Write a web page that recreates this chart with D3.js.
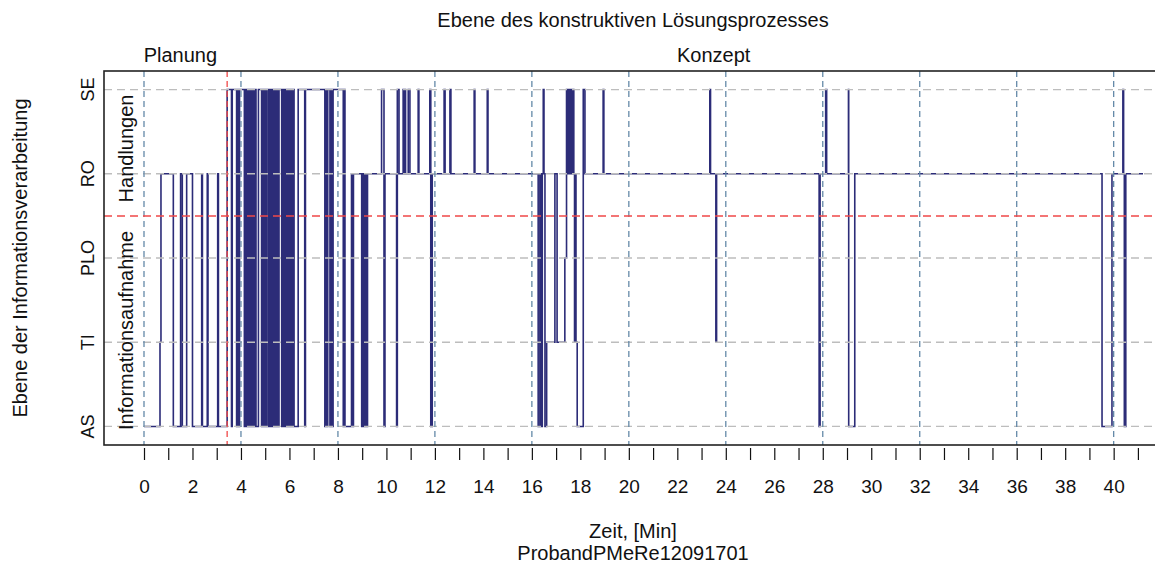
<!DOCTYPE html>
<html>
    <head>
        <meta charset="utf-8">
        <title>Ebene des konstruktiven Lösungsprozesses</title>
        <script src="https://d3js.org/d3.v7.min.js" charset="utf-8"></script>
        <style>
            body { margin: 0; background: #fff; }
            svg text { font-family: "Liberation Sans", Arial, sans-serif; fill: #111; }
        </style>
    </head>
    <body>
        <script>
            // levels of information processing, bottom to top
            var levelNames = ["AS", "TI", "PLO", "RO", "SE"];

            // step data: from changeTimes[i] (minutes) on, the level is changeLevels[i] (1 = AS ... 5 = SE)
            var changeTimes = [
                0.00, 0.66, 0.70, 1.21, 1.51, 1.58, 1.76, 2.00, 2.38, 2.41,
                2.61, 2.64, 3.04, 3.07, 3.43, 3.61, 3.64, 3.82, 3.86, 3.90,
                3.94, 4.14, 4.18, 4.22, 4.26, 4.30, 4.34, 4.38, 4.42, 4.46,
                4.50, 4.54, 4.58, 4.62, 4.72, 4.85, 4.89, 4.93, 4.97, 5.01,
                5.06, 5.13, 5.17, 5.21, 5.25, 5.29, 5.33, 5.37, 5.41, 5.47,
                5.50, 5.54, 5.57, 5.68, 5.72, 5.76, 5.80, 5.86, 5.90, 5.94,
                5.98, 6.02, 6.06, 6.10, 6.14, 6.19, 6.36, 6.63, 6.66, 7.46,
                7.50, 7.55, 7.58, 7.67, 7.71, 7.77, 7.80, 8.22, 8.26, 8.29,
                8.56, 8.60, 8.64, 8.98, 9.01, 9.04, 9.07, 9.13, 9.16, 9.19,
                9.22, 9.80, 9.90, 9.94, 10.42, 10.45, 10.52, 10.69, 10.72, 10.76,
                10.79, 10.90, 10.97, 11.31, 11.34, 11.79, 11.83, 11.89, 12.38, 12.42,
                12.62, 12.66, 13.62, 13.65, 14.16, 14.19, 16.26, 16.33, 16.37, 16.43,
                16.47, 16.50, 16.54, 16.61, 16.95, 17.04, 17.36, 17.43, 17.47, 17.50,
                17.54, 17.57, 17.61, 17.64, 17.68, 17.70, 17.73, 17.76, 17.79, 17.82,
                17.87, 18.12, 18.19, 18.94, 18.97, 23.34, 23.37, 23.59, 23.62, 27.85,
                27.89, 28.12, 28.16, 29.06, 29.07, 29.32, 39.52, 39.93, 40.38, 40.41,
                40.44, 40.50
            ];
            var changeLevels = [
                1, 2, 4, 1, 4, 1, 4, 1, 4, 1,
                4, 1, 4, 1, 5, 1, 5, 1, 5, 1,
                5, 1, 5, 1, 5, 1, 5, 1, 5, 1,
                5, 1, 5, 1, 5, 1, 5, 1, 5, 1,
                5, 1, 5, 1, 5, 1, 5, 1, 5, 1,
                5, 1, 5, 1, 5, 1, 5, 1, 5, 1,
                5, 1, 5, 1, 5, 1, 5, 1, 5, 1,
                5, 1, 5, 1, 5, 1, 5, 1, 5, 1,
                4, 1, 4, 1, 4, 1, 4, 1, 4, 1,
                4, 5, 1, 4, 1, 5, 4, 5, 4, 5,
                4, 5, 4, 5, 4, 5, 1, 4, 5, 4,
                5, 4, 5, 4, 5, 4, 1, 4, 1, 4,
                5, 4, 1, 2, 4, 2, 3, 5, 4, 5,
                4, 5, 4, 5, 4, 5, 4, 2, 4, 2,
                1, 5, 4, 5, 4, 5, 4, 2, 4, 1,
                4, 5, 4, 5, 1, 4, 1, 4, 5, 4,
                1, 4
            ];
            var endTime = 41.21;

            // phases of the design process
            var phaseNames = ["Planung", "Konzept"];
            var phaseLabelAt = [1.5, 23.5];
            var phaseBoundary = 3.43;
            var levelBoundary = 3.5;

            // axis ticks
            var xTicks = d3.range(0, 42);
            var xLabelStep = 2;
            var gridMinutes = [0, 4, 8, 12, 16, 20, 24, 28, 32, 36, 40];

            var width = 1155, height = 564;
            var plotLeft = 104, plotRight = 1183, plotTop = 71, plotBottom = 445;

            var x = d3.scaleLinear().domain([-1.65, 42.86]).range([plotLeft, plotRight]);
            var y = d3.scaleLinear().domain([0.78, 5.22]).range([plotBottom, plotTop]);

            var svg = d3.select("body").append("svg")
                        .attr("width", width)
                        .attr("height", height);

            var points = changeTimes.map(function(t, i) { return [t, changeLevels[i]]; });
            points.push([endTime, changeLevels[changeLevels.length - 1]]);

            var line = d3.line()
                .x(function(d) { return x(d[0]); })
                .y(function(d) { return y(d[1]); })
                .curve(d3.curveStepAfter);

            svg.append("path")
                .datum(points)
                .attr("fill", "none")
                .attr("stroke", "#2c2c78")
                .attr("stroke-width", 1.6)
                .attr("d", line);

            // horizontal grid at each level
            svg.selectAll("line.hgrid")
                .data(d3.range(1, 6))
                .enter().append("line")
                .attr("class", "hgrid")
                .attr("x1", plotLeft).attr("x2", plotRight)
                .attr("y1", function(d) { return y(d); })
                .attr("y2", function(d) { return y(d); })
                .attr("stroke", "#bdbdbd")
                .attr("stroke-width", 1.3)
                .attr("stroke-dasharray", "8,5");

            // vertical grid every 4 minutes
            svg.selectAll("line.vgrid")
                .data(gridMinutes)
                .enter().append("line")
                .attr("class", "vgrid")
                .attr("x1", function(d) { return x(d); })
                .attr("x2", function(d) { return x(d); })
                .attr("y1", plotTop).attr("y2", plotBottom)
                .attr("stroke", "#6489a8")
                .attr("stroke-width", 1.3)
                .attr("stroke-dasharray", "6,4");

            // red separators
            svg.append("line")
                .attr("x1", plotLeft).attr("x2", plotRight)
                .attr("y1", y(levelBoundary)).attr("y2", y(levelBoundary))
                .attr("stroke", "#f04848")
                .attr("stroke-width", 1.5)
                .attr("stroke-dasharray", "8,5");
            svg.append("line")
                .attr("x1", x(phaseBoundary)).attr("x2", x(phaseBoundary))
                .attr("y1", plotTop).attr("y2", plotBottom)
                .attr("stroke", "#f04848")
                .attr("stroke-width", 1.3)
                .attr("stroke-dasharray", "6,4");

            // frame
            svg.append("rect")
                .attr("x", plotLeft).attr("y", plotTop)
                .attr("width", plotRight - plotLeft).attr("height", plotBottom - plotTop)
                .attr("fill", "none")
                .attr("stroke", "#222")
                .attr("stroke-width", 1.6);

            // x axis
            var xAxis = d3.axisBottom(x)
                .tickValues(xTicks)
                .tickSize(12)
                .tickFormat(function(d) { return d % xLabelStep === 0 ? d : ""; });

            var gx = svg.append("g")
                .attr("transform", "translate(0," + (plotBottom + 3) + ")")
                .call(xAxis);
            gx.select(".domain").remove();
            gx.selectAll(".tick line").attr("stroke", "#111").attr("stroke-width", 1.2);
            gx.selectAll(".tick text")
                .attr("y", 38).attr("dy", "0.35em")
                .attr("font-size", "19px")
                .attr("fill", "#111");

            // y tick labels, rotated
            svg.selectAll("text.ylab")
                .data(levelNames)
                .enter().append("text")
                .attr("class", "ylab")
                .attr("transform", function(d, i) { return "translate(88," + y(i + 1) + ") rotate(-90)"; })
                .attr("text-anchor", "middle")
                .attr("dominant-baseline", "central")
                .attr("font-size", "18px")
                .text(function(d) { return d; });

            // region labels inside the frame
            var regions = [
                {name: "Handlungen", lo: levelBoundary, hi: 5.1},
                {name: "Informationsaufnahme", lo: 0.78, hi: levelBoundary}
            ];
            svg.selectAll("text.region")
                .data(regions)
                .enter().append("text")
                .attr("class", "region")
                .attr("transform", function(d) { return "translate(126," + y((d.lo + d.hi) / 2) + ") rotate(-90)"; })
                .attr("text-anchor", "middle")
                .attr("dominant-baseline", "central")
                .attr("font-size", "20px")
                .text(function(d) { return d.name; });

            // phase labels above the frame
            svg.selectAll("text.phase")
                .data(phaseNames)
                .enter().append("text")
                .attr("class", "phase")
                .attr("x", function(d, i) { return x(phaseLabelAt[i]); })
                .attr("y", 55)
                .attr("text-anchor", "middle")
                .attr("dominant-baseline", "central")
                .attr("font-size", "20px")
                .text(function(d) { return d; });

            // titles
            svg.append("text")
                .attr("x", 633).attr("y", 20)
                .attr("text-anchor", "middle")
                .attr("dominant-baseline", "central")
                .attr("font-size", "20px")
                .text("Ebene des konstruktiven Lösungsprozesses");

            svg.append("text")
                .attr("transform", "translate(20,258) rotate(-90)")
                .attr("text-anchor", "middle")
                .attr("dominant-baseline", "central")
                .attr("font-size", "20px")
                .text("Ebene der Informationsverarbeitung");

            svg.append("text")
                .attr("x", 633).attr("y", 531)
                .attr("text-anchor", "middle")
                .attr("dominant-baseline", "central")
                .attr("font-size", "20px")
                .text("Zeit, [Min]");

            svg.append("text")
                .attr("x", 633).attr("y", 553)
                .attr("text-anchor", "middle")
                .attr("dominant-baseline", "central")
                .attr("font-size", "20px")
                .text("ProbandPMeRe12091701");
        </script>
    </body>
</html>
